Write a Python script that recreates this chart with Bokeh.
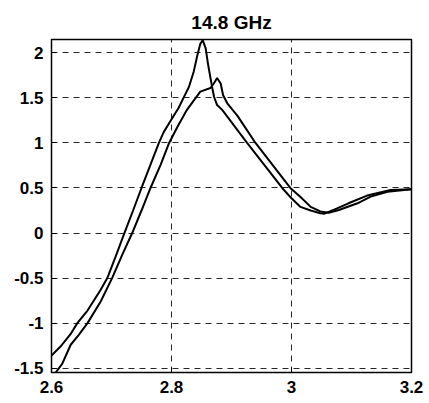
from bokeh.plotting import figure
from bokeh.models import FixedTicker, Range1d
from bokeh.embed import file_html
from bokeh.resources import INLINE

title_text = "14.8 GHz"

# Curve A (left-shifted curve, sharp peak)
a_x = [2.6, 2.615, 2.632, 2.643, 2.66, 2.682, 2.693, 2.707, 2.7215, 2.736, 2.75, 2.765,
       2.779, 2.787, 2.798, 2.812, 2.82, 2.829, 2.837, 2.843, 2.848, 2.852, 2.857,
       2.861, 2.865, 2.868, 2.871, 2.876, 2.8845, 2.926, 2.9845, 3.0, 3.015, 3.032, 3.048,
       3.055, 3.075, 3.095, 3.128, 3.165, 3.2]
a_y = [-1.36, -1.26, -1.12, -1.0, -0.86, -0.63, -0.5, -0.26, 0.0, 0.25, 0.5, 0.76,
       1.0, 1.12, 1.24, 1.39, 1.5, 1.62, 1.79, 1.97, 2.1, 2.14, 2.05,
       1.87, 1.72, 1.61, 1.51, 1.42, 1.367, 1.0, 0.5, 0.385, 0.29, 0.25, 0.22,
       0.215, 0.27, 0.33, 0.42, 0.478, 0.486]

# Curve B (right-shifted curve, smaller peak)
b_x = [2.6, 2.608, 2.618, 2.632, 2.6455, 2.66, 2.682, 2.701, 2.718, 2.7345, 2.75, 2.765,
       2.782, 2.796, 2.81, 2.826, 2.848, 2.865, 2.8705, 2.876, 2.882, 2.886, 2.893, 2.91,
       2.94, 2.998, 3.015, 3.032, 3.048, 3.062, 3.079, 3.11, 3.132, 3.16, 3.2]
b_y = [-1.62, -1.54, -1.45, -1.24, -1.13, -1.0, -0.76, -0.5, -0.24, 0.0, 0.25, 0.5,
       0.76, 1.0, 1.18, 1.37, 1.57, 1.61, 1.66, 1.72, 1.66, 1.53, 1.44, 1.3,
       1.0, 0.5, 0.4, 0.29, 0.24, 0.225, 0.256, 0.33, 0.404, 0.459, 0.486]

x_ticks = [2.6, 2.8, 3.0, 3.2]
x_labels = ["2.6", "2.8", "3", "3.2"]
y_ticks = [-1.5, -1.0, -0.5, 0.0, 0.5, 1.0, 1.5, 2.0]
y_labels = ["-1.5", "-1", "-0.5", "0", "0.5", "1", "1.5", "2"]

FONT = "Liberation Sans"

p = figure(width=429, height=403, output_backend="svg", toolbar_location=None,
           x_range=Range1d(2.6, 3.2), y_range=Range1d(-1.548, 2.148),
           min_border_left=51, min_border_right=18, min_border_top=39, min_border_bottom=31,
           title=title_text)

p.title.align = "center"
p.title.text_font = FONT
p.title.text_font_size = "19px"
p.title.text_font_style = "bold"
p.title.text_color = "black"
p.title.standoff = 14

p.outline_line_color = "black"
p.outline_line_width = 1.5
p.outline_line_alpha = 1.0
p.background_fill_color = "white"
p.border_fill_color = "white"

for ax, ticks, labels in ((p.xaxis[0], x_ticks, x_labels), (p.yaxis[0], y_ticks, y_labels)):
    ax.ticker = FixedTicker(ticks=ticks)
    ax.major_label_overrides = {t: l for t, l in zip(ticks, labels)}
    ax.major_label_text_font = FONT
    ax.major_label_text_font_size = "17px"
    ax.major_label_text_font_style = "bold"
    ax.major_label_text_color = "black"
    ax.major_tick_in = 5
    ax.major_tick_out = 0
    ax.minor_tick_line_color = None
    ax.axis_line_color = "black"
    ax.major_tick_line_color = "black"
    ax.major_label_standoff = 8

p.xgrid.ticker = FixedTicker(ticks=x_ticks)
p.ygrid.ticker = FixedTicker(ticks=y_ticks)
for g in (p.xgrid[0], p.ygrid[0]):
    g.grid_line_color = "black"
    g.grid_line_dash = "6 5"
    g.grid_line_width = 1
    g.grid_line_alpha = 0.85

p.line(a_x, a_y, line_color="black", line_width=2)
p.line(b_x, b_y, line_color="black", line_width=2)

open("out.html", "w").write(file_html(p, INLINE))
